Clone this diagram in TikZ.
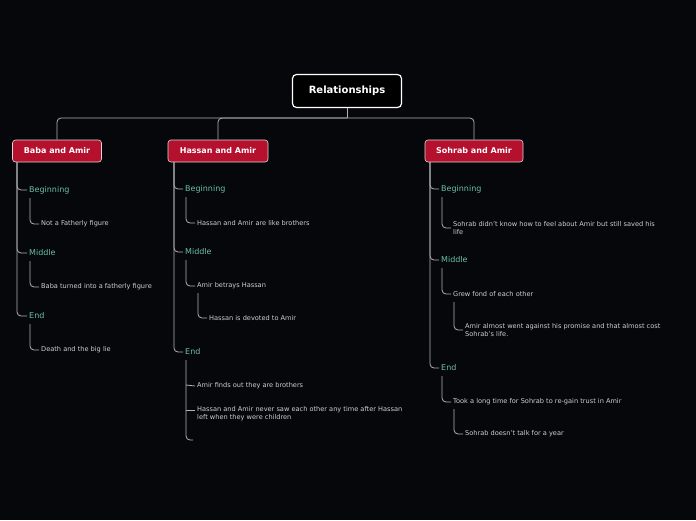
\documentclass[tikz,border=0pt]{standalone}
\usepackage{fontspec}
\setmainfont{DejaVu Sans}
\begin{document}
\begin{tikzpicture}[x=1pt,y=-1pt,
  conn/.style={draw=black!30!white,line width=0.8pt,rounded corners=4pt},
  rootbox/.style={draw=white,line width=1.2pt,rounded corners=4pt,text=white,font=\bfseries\fontsize{10}{12}\selectfont,minimum width=109pt,minimum height=33pt},
  branch/.style={draw=white!85!black,line width=0.6pt,rounded corners=3pt,text=white,font=\bfseries\fontsize{8}{10}\selectfont,minimum height=22pt,inner xsep=6pt},
  sect/.style={anchor=west,font=\fontsize{8}{10}\selectfont,inner sep=2pt},
  leaf/.style={anchor=west,text=white!82!black,font=\fontsize{6.6}{8.3}\selectfont,inner sep=2pt,align=left}]
\definecolor{bred}{HTML}{B5102E}
\definecolor{teal2}{HTML}{6BBFA8}
\definecolor{bg}{HTML}{05070A}
\tikzset{branch/.append style={fill=bred},sect/.append style={text=teal2}}
\fill[bg] (0,0) rectangle (696,520);
\useasboundingbox (0,0) rectangle (696,520);
\node[rootbox,fill=black] (root) at (347,91) {Relationships};
\node[branch,minimum width=89pt] (baba) at (57,151) {Baba and Amir};
\node[branch,minimum width=100pt] (hassan) at (218,151) {Hassan and Amir};
\node[branch,minimum width=98pt] (sohrab) at (474,151) {Sohrab and Amir};
\coordinate (j) at (347,118);
\draw[conn] (root.south) -- (j);
\draw[conn] (j) -| (baba.north);
\draw[conn] (j) -| (hassan.north);
\draw[conn] (j) -| (sohrab.north);
% Baba
\node[sect] (b1) at (27,190) {Beginning};
\node[sect] (b2) at (27,253) {Middle};
\node[sect] (b3) at (27,316) {End};
\foreach \n in {b1,b2,b3}{\draw[conn] (17,162) |- (\n.west);}
\node[leaf] (b1a) at (39,224) {Not a Fatherly figure};
\node[leaf] (b2a) at (39,287) {Baba turned into a fatherly figure};
\node[leaf] (b3a) at (39,350) {Death and the big lie};
\draw[conn] (30,198) |- (b1a.west);
\draw[conn] (30,261) |- (b2a.west);
\draw[conn] (30,324) |- (b3a.west);
% Hassan
\node[sect] (h1) at (183,189) {Beginning};
\node[sect] (h2) at (183,252) {Middle};
\node[sect] (h3) at (183,352) {End};
\foreach \n in {h1,h2,h3}{\draw[conn] (174,162) |- (\n.west);}
\node[leaf] (h1a) at (195,223) {Hassan and Amir are like brothers};
\node[leaf] (h2a) at (195,286) {Amir betrays Hassan};
\node[leaf] (h2b) at (207,318) {Hassan is devoted to Amir};
\draw[conn] (186,197) |- (h1a.west);
\draw[conn] (186,260) |- (h2a.west);
\draw[conn] (198,293) |- (h2b.west);
\node[leaf] (h3a) at (195,386) {Amir finds out they are brothers};
\node[leaf] (h3b) at (195,414) {Hassan and Amir never saw each other any time after Hassan\\left when they were children};
\coordinate (h3c) at (193,440);
\draw[conn] (186,360) |- (h3c);
\draw[conn] (186,385) -- (h3a.west);
\draw[conn] (186,410) -- (h3b.west|-186,410);
% Sohrab
\node[sect] (s1) at (439,189) {Beginning};
\node[sect] (s2) at (439,260) {Middle};
\node[sect] (s3) at (439,368) {End};
\foreach \n in {s1,s2,s3}{\draw[conn] (430,162) |- (\n.west);}
\node[leaf] (s1a) at (451,228) {Sohrab didn't know how to feel about Amir but still saved his\\life};
\node[leaf] (s2a) at (451,294) {Grew fond of each other};
\node[leaf] (s2b) at (463,330) {Amir almost went against his promise and that almost cost\\Sohrab's life.};
\node[leaf] (s3a) at (451,402) {Took a long time for Sohrab to re-gain trust in Amir};
\node[leaf] (s3b) at (463,434) {Sohrab doesn't talk for a year};
\draw[conn] (442,197) |- (s1a.west);
\draw[conn] (442,268) |- (s2a.west);
\draw[conn] (454,302) |- (s2b.west);
\draw[conn] (442,376) |- (s3a.west);
\draw[conn] (454,409) |- (s3b.west);
\end{tikzpicture}
\end{document}
